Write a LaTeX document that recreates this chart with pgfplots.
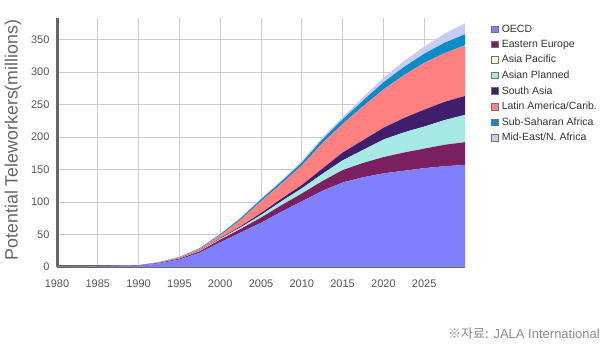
\documentclass[border=0pt]{standalone}
\usepackage{fontspec}
\setmainfont{Liberation Sans}
\newfontfamily\cjk{Noto Sans CJK KR}
\usepackage{pgfplots}
\usepackage{pgfplotstable}
\pgfplotsset{compat=1.18}
\definecolor{cOECD}{HTML}{8080FF}
\definecolor{cEE}{HTML}{7B2060}
\definecolor{cAP}{HTML}{FFFFCC}
\definecolor{cAPL}{HTML}{A6E8E4}
\definecolor{cSA}{HTML}{3F1F6B}
\definecolor{cLAT}{HTML}{FF8080}
\definecolor{cSS}{HTML}{0A8CC8}
\definecolor{cME}{HTML}{C8CCF4}
\definecolor{axisgray}{HTML}{666666}
\definecolor{gridgray}{HTML}{CCCCCC}
\definecolor{ticktext}{HTML}{555555}
\definecolor{labeltext}{HTML}{666666}
\definecolor{legtext}{HTML}{333333}
\definecolor{srctext}{HTML}{8A8A8A}
\pgfplotstableread{
year oecd ee ap apl sa lat ss me
1980 0 0 0 0 0 0 0 0
1985 0.3 0.1 0 0.1 0.05 0.1 0.1 0.1
1990 2 0.3 0 0.1 0.1 0.2 0.1 0.1
1992.5 5.5 0.7 0 0.2 0.2 0.6 0.3 0.2
1995 11.5 1.3 0 0.4 0.3 1.3 0.5 0.3
1997.5 22 2.2 0 0.8 0.5 2.5 0.9 0.5
2000 38 4 0 1.5 0.8 4.5 1.5 0.8
2002.5 53 5.5 0 2.5 1.5 10 2.5 1.2
2005 68 8 0 4 3 18 3 1.5
2007.5 85 10 0 6 4 23 3.5 2
2010 101 12 0 8 5 30 4.5 2.5
2012.5 117 15 0 11 8 39 6 3
2015 130 19 0 15 12 44 7 4
2017.5 138 22 0 20 15 52 9 5
2020 144 25 0 27 18 59 11 7
2022.5 148 28 0 31 22 66 12.5 9
2025 152 30 0 34 26 72 14 11
2027.5 155 33 0 38 28 75 16 14
2030 157 35 0 42 29 78 17 17
}\datatable
\begin{document}
\begin{tikzpicture}[x=1pt,y=1pt]
\path[use as bounding box] (0,0) rectangle (612,350);
\begin{axis}[
  at={(57pt,83pt)}, anchor=south west,
  scale only axis, width=408pt, height=249pt,
  xmin=1980, xmax=2030, ymin=0, ymax=383,
  stack plots=y,
  axis x line*=bottom, axis y line*=left,
  axis line style={draw=axisgray, line width=3pt},
  xtick={1980,1985,...,2025}, ytick={0,50,...,350},
  major tick length=0pt,
  xmajorgrids, ymajorgrids,
  major grid style={draw=gridgray, line width=0.9pt},
  /pgf/number format/1000 sep={},
  /pgf/number format/assume math mode=true,
  tick label style={font=\fontsize{11}{13}\selectfont, text=ticktext},
  yticklabel style={xshift=-4pt},
  xticklabel style={yshift=-9pt},
  ylabel={Potential Teleworkers(millions)},
  ylabel style={at={(axis description cs:-0.108,0.51)}, anchor=center, rotate=0,
    font=\fontsize{17.8}{19}\selectfont, text=labeltext},
  legend style={at={(axis description cs:1.056,0.99)}, anchor=north west,
    draw=none, fill=none, font=\fontsize{10.5}{12}\selectfont, text=legtext,
    row sep=2.5pt},
  legend cell align=left,
  legend image code/.code={\draw[#1, draw=black!55, line width=0.5pt] (0pt,-3.3pt) rectangle (6.6pt,3.3pt); \path (8.5pt,0pt);},
]
\addplot[fill=cOECD, draw=none] table[x=year,y=oecd]{\datatable} \closedcycle;
\addlegendentry{OECD}
\addplot[fill=cEE, draw=none] table[x=year,y=ee]{\datatable} \closedcycle;
\addlegendentry{Eastern Europe}
\addplot[fill=cAP, draw=none] table[x=year,y=ap]{\datatable} \closedcycle;
\addlegendentry{Asia Pacific}
\addplot[fill=cAPL, draw=none] table[x=year,y=apl]{\datatable} \closedcycle;
\addlegendentry{Asian Planned}
\addplot[fill=cSA, draw=none] table[x=year,y=sa]{\datatable} \closedcycle;
\addlegendentry{South Asia}
\addplot[fill=cLAT, draw=none] table[x=year,y=lat]{\datatable} \closedcycle;
\addlegendentry{Latin America/Carib.}
\addplot[fill=cSS, draw=none] table[x=year,y=ss]{\datatable} \closedcycle;
\addlegendentry{Sub-Saharan Africa}
\addplot[fill=cME, draw=none] table[x=year,y=me]{\datatable} \closedcycle;
\addlegendentry{Mid-East/N. Africa}
\draw[axisgray, line width=3pt] (rel axis cs:0,0) -- (rel axis cs:1,0);
\end{axis}
\node[anchor=east, text=srctext, font=\fontsize{13}{15}\selectfont, inner sep=0pt] at (600,16) {{\cjk ※자료:} JALA International};
\end{tikzpicture}
\end{document}
